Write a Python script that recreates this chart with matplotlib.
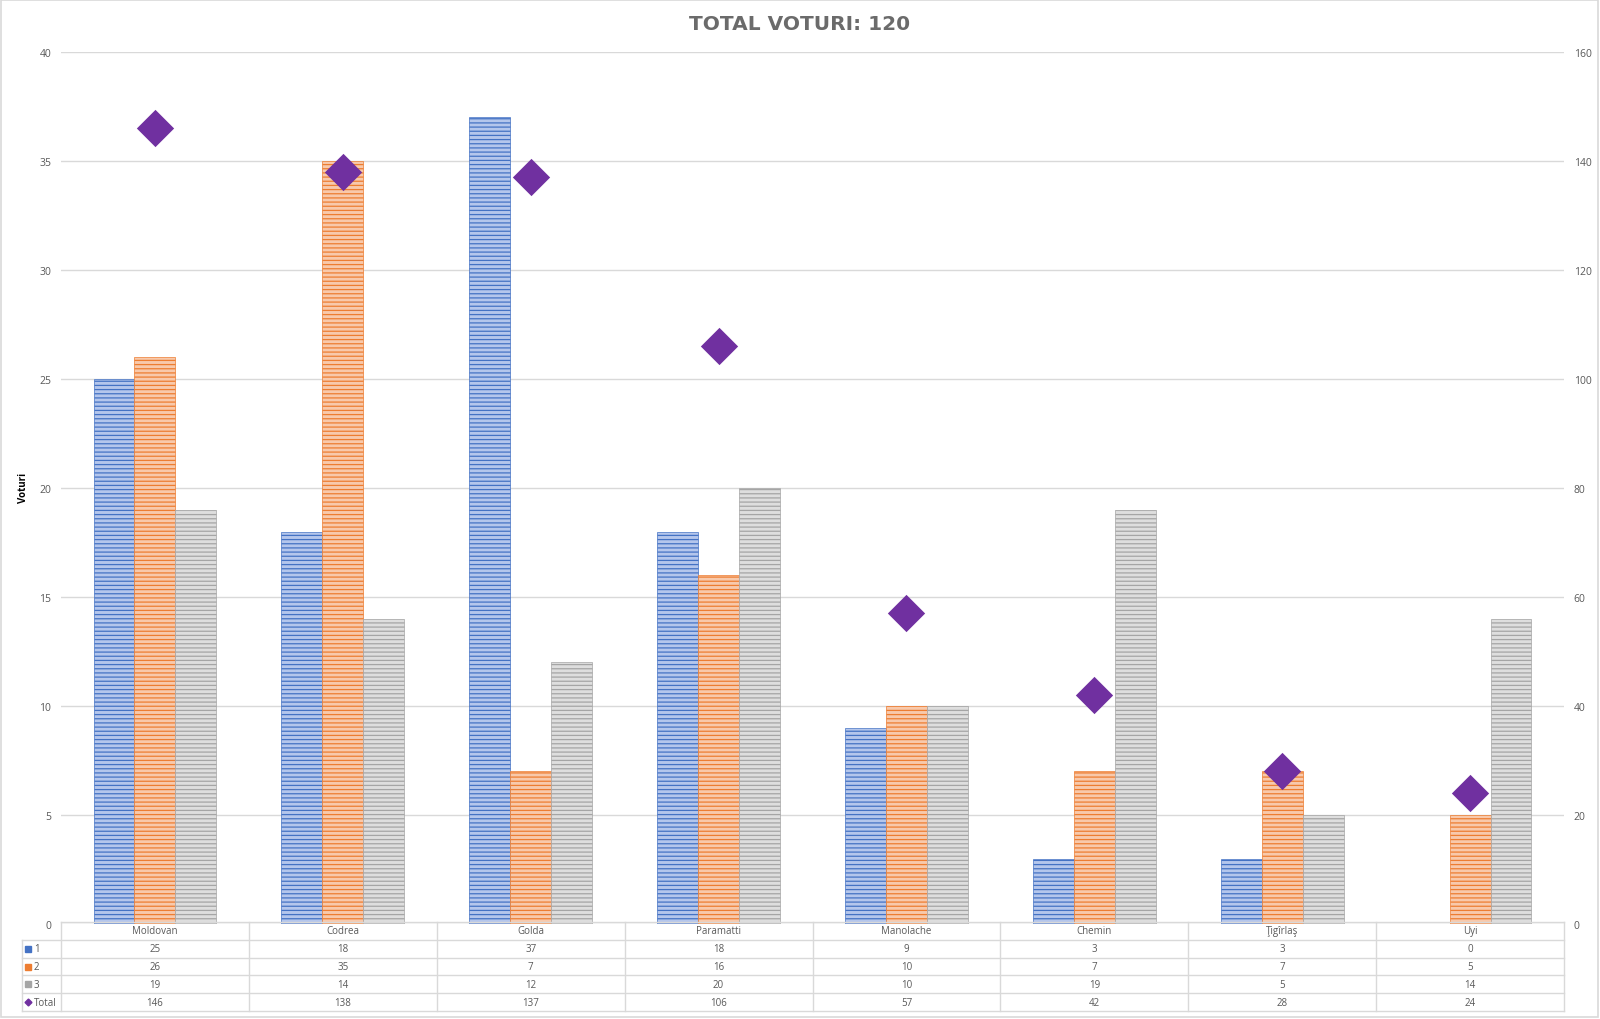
import matplotlib
matplotlib.use("Agg")
import matplotlib.pyplot as plt
import numpy as np
from matplotlib.patches import Rectangle

plt.rcParams['font.family'] = ['Open Sans', 'DejaVu Sans']
plt.rcParams['hatch.linewidth'] = 0.9

# data
categories = ["Moldovan", "Codrea", "Golda", "Paramatti", "Manolache", "Chemin", "Ţigîrlaş", "Uyi"]
series_names = ["1", "2", "3"]
votes_1 = [25, 18, 37, 18, 9, 3, 3, 0]
votes_2 = [26, 35, 7, 16, 10, 7, 7, 5]
votes_3 = [19, 14, 12, 20, 10, 19, 5, 14]
totals = [146, 138, 137, 106, 57, 42, 28, 24]
title = "TOTAL VOTURI: 120"

dark = ["#4472c4", "#ed7d31", "#a5a5a5"]
light = ["#b4c6ec", "#f8c9ab", "#dedede"]
purple = "#7030a0"
grid_c = "#d9d9d9"
text_c = "#595959"

W, H = 1600, 1020
fig = plt.figure(figsize=(W / 100, H / 100), dpi=100)

# plot area in pixels
L, R, T, B = 61, 1564, 53, 925
ax = fig.add_axes([L / W, 1 - B / H, (R - L) / W, (B - T) / H])
ax2 = ax.twinx()

x = np.arange(len(categories))
bw = 0.218
for i, vals in enumerate([votes_1, votes_2, votes_3]):
    ax.bar(x + (i - 1) * bw, vals, width=bw, facecolor=light[i], edgecolor=dark[i],
           hatch='----', linewidth=0.5, zorder=2)

ax2.scatter(x, totals, marker='D', s=19 ** 2, color=purple, zorder=3, linewidths=0)

ax.set_xlim(-0.5, len(categories) - 0.5)
ax.set_ylim(0, 40)
ax.set_yticks(range(0, 41, 5))
ax2.set_ylim(0, 160)
ax2.set_yticks(range(0, 161, 20))
ax.set_xticks([])
ax.grid(axis='y', color=grid_c, linewidth=1.0, zorder=0)
ax.set_axisbelow(True)
for a in (ax, ax2):
    for s in a.spines.values():
        s.set_visible(False)
    a.tick_params(axis='y', length=0, pad=7, labelsize=7.5, labelcolor=text_c)
ax2.set_zorder(ax.get_zorder() + 1)
ax2.patch.set_visible(False)

fig.text(800 / W, 1 - 24 / H, title, ha='center', va='center', fontsize=14.5,
         fontweight='bold', color="#6b6b6b", family=['DejaVu Sans'])
fig.text(23 / W, 1 - 488 / H, "Voturi", rotation=90, ha='center', va='center',
         fontsize=7, fontweight='bold', color='black')

# data table below the chart
tax = fig.add_axes([0, 0, 1, 1])
tax.set_xlim(0, W)
tax.set_ylim(H, 0)
tax.axis('off')
tax.patch.set_visible(False)

row_h = 17.8
col_w = (R - L) / len(categories)
LBL = 22
rows = [votes_1, votes_2, votes_3, totals]
row_labels = series_names + ["Total"]
top = B - 2
# horizontal lines
tax.plot([L, R], [top, top], color=grid_c, lw=1)
for r in range(1, 6):
    yy = top + r * row_h
    tax.plot([LBL, R], [yy, yy], color=grid_c, lw=1)
# vertical lines
tax.plot([L, L], [top, top + 5 * row_h], color=grid_c, lw=1)
tax.plot([LBL, LBL], [top + row_h, top + 5 * row_h], color=grid_c, lw=1)
for c in range(1, len(categories) + 1):
    xx = L + c * col_w
    tax.plot([xx, xx], [top, top + 5 * row_h], color=grid_c, lw=1)

for c, name in enumerate(categories):
    tax.text(L + (c + 0.5) * col_w, top + 0.5 * row_h, name, ha='center', va='center',
             fontsize=7, color=text_c)
for r, vals in enumerate(rows):
    yc = top + (r + 1.5) * row_h
    for c, v in enumerate(vals):
        tax.text(L + (c + 0.5) * col_w, yc, str(v), ha='center', va='center',
                 fontsize=7, color=text_c)
    if r < 3:
        tax.plot([28], [yc], marker='s', ms=4.5, color=dark[r], lw=0)
    else:
        tax.plot([28], [yc], marker='D', ms=3.5, color=purple, lw=0)
    tax.text(34, yc, row_labels[r], ha='left', va='center', fontsize=7, color=text_c)

# chart border
tax.add_patch(Rectangle((1, 1), W - 3, H - 3, fill=False, edgecolor=grid_c, lw=1.2))

fig.savefig("out.png", dpi=100)
